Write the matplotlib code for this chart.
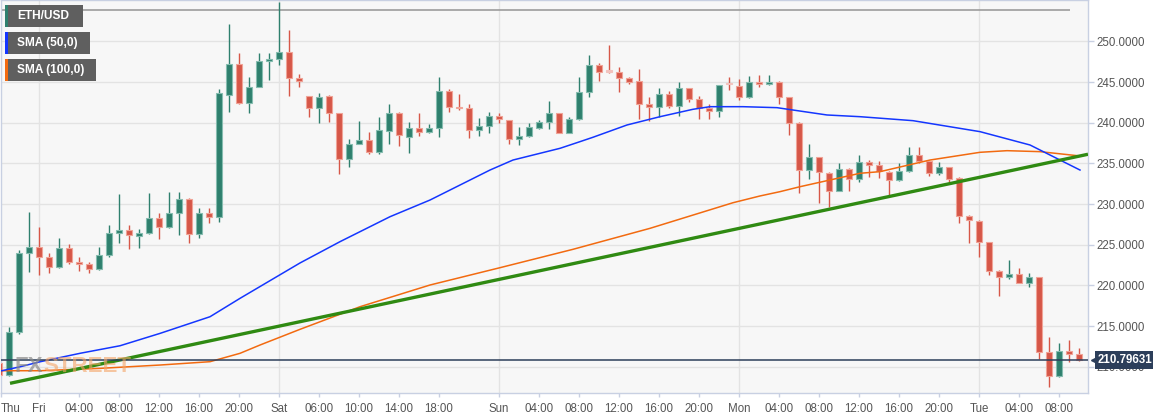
import numpy as np
import matplotlib
matplotlib.use("Agg")
import matplotlib.pyplot as plt
import matplotlib.transforms as mtransforms
from matplotlib.patches import Rectangle

plt.rcParams['font.family'] = ['Liberation Sans', 'DejaVu Sans']

# --- ETH/USD hourly candles ---
opens = [210.45, 208.98, 214.30, 223.95, 224.76, 223.53, 222.30, 224.55, 222.84, 222.60,
         222.00, 223.74, 226.48, 226.81, 226.08, 226.41, 228.33, 227.14, 228.86, 230.60,
         226.28, 228.94, 228.38, 243.42, 247.20, 242.47, 244.44, 247.60, 247.81, 248.67,
         245.47, 243.30, 241.86, 243.30, 241.17, 235.55, 237.39, 237.88, 236.37, 238.99,
         241.17, 238.29, 239.32, 238.83, 239.40, 243.95, 241.98, 241.78, 239.11, 239.64,
         240.84, 240.34, 238.01, 238.38, 239.40, 240.06, 241.17, 238.78, 240.43, 243.83,
         247.11, 246.29, 246.29, 245.47, 245.14, 242.27, 241.90, 243.54, 242.07, 244.24,
         242.93, 241.78, 241.49, 244.73, 244.53, 243.14, 245.06, 244.77, 245.06, 243.14,
         240.01, 234.19, 235.76, 233.86, 231.65, 234.28, 233.09, 235.22, 234.81, 233.99,
         232.96, 234.07, 236.04, 235.30, 233.79, 234.53, 233.17, 228.57, 227.96, 225.30,
         221.81, 220.99, 221.36, 220.33, 220.99, 211.85, 208.90, 211.97, 211.56]
highs = [211.81, 214.92, 224.35, 229.07, 227.22, 223.95, 225.80, 225.06, 223.53, 222.90,
         224.76, 227.43, 231.24, 227.43, 226.90, 231.40, 228.86, 231.45, 231.45, 230.75,
         229.48, 229.48, 244.12, 252.10, 248.55, 245.67, 248.55, 248.55, 254.90, 251.41,
         246.00, 243.35, 243.63, 243.42, 241.20, 237.97, 240.22, 238.83, 240.68, 242.27,
         241.30, 240.14, 241.17, 239.82, 245.60, 244.12, 243.51, 242.27, 240.55, 241.37,
         241.17, 240.40, 239.52, 239.94, 240.34, 242.68, 241.20, 240.75, 245.60, 248.34,
         247.30, 249.57, 246.90, 245.67, 246.58, 243.14, 244.24, 243.95, 245.06, 244.30,
         243.33, 242.27, 244.70, 245.67, 245.35, 245.76, 245.88, 245.88, 245.10, 243.20,
         240.05, 237.39, 235.80, 233.90, 235.02, 234.40, 236.04, 235.42, 235.34, 234.05,
         235.02, 236.99, 236.99, 235.35, 235.14, 234.60, 233.30, 228.60, 228.00, 225.35,
         221.85, 223.12, 222.10, 221.49, 221.05, 213.69, 212.87, 213.28, 212.26]
lows = [206.90, 208.80, 214.00, 221.69, 221.28, 221.49, 222.10, 222.60, 221.80, 221.56,
        221.95, 223.45, 225.18, 224.44, 224.55, 226.28, 225.67, 227.00, 226.20, 225.18,
        225.80, 227.64, 227.84, 241.29, 242.27, 241.17, 244.37, 245.26, 247.10, 243.33,
        244.44, 240.75, 239.94, 240.14, 233.67, 234.60, 237.35, 236.16, 236.20, 237.35,
        237.18, 236.25, 238.38, 238.70, 238.29, 241.29, 241.57, 238.09, 238.38, 238.71,
        239.94, 237.35, 237.23, 238.30, 239.20, 239.20, 238.71, 238.75, 240.30, 243.14,
        245.18, 246.09, 243.75, 244.77, 240.43, 240.26, 240.75, 241.78, 240.84, 242.60,
        240.43, 240.43, 240.75, 244.03, 242.80, 243.10, 244.44, 244.70, 242.27, 238.50,
        231.33, 233.09, 230.17, 229.61, 231.60, 231.61, 232.68, 233.30, 233.17, 231.12,
        232.90, 234.00, 235.02, 233.50, 233.58, 232.56, 227.64, 225.18, 223.45, 221.28,
        218.73, 220.79, 220.30, 219.84, 210.95, 207.47, 208.70, 210.62, 210.75]
closes = [208.98, 214.30, 223.95, 224.76, 223.53, 222.30, 224.55, 222.84, 222.63, 222.00,
          223.74, 226.41, 226.81, 226.20, 226.48, 228.33, 227.22, 228.86, 230.60, 226.28,
          228.94, 228.38, 243.67, 247.23, 242.40, 244.37, 247.60, 247.81, 248.67, 245.47,
          245.14, 241.86, 243.21, 241.17, 235.55, 237.39, 237.88, 236.37, 239.11, 241.17,
          238.50, 239.32, 238.91, 239.40, 243.95, 241.91, 241.78, 239.11, 239.64, 240.84,
          240.43, 238.01, 238.38, 239.45, 240.06, 241.17, 238.71, 240.43, 243.75, 247.11,
          246.29, 246.27, 245.47, 245.06, 242.28, 241.90, 243.54, 242.07, 244.24, 242.93,
          241.78, 241.49, 244.65, 244.73, 243.14, 245.06, 244.77, 245.06, 243.21, 240.01,
          234.19, 235.76, 233.91, 231.65, 234.28, 233.09, 235.22, 234.81, 234.07, 232.96,
          234.11, 236.04, 235.30, 233.79, 234.53, 233.09, 228.57, 228.04, 225.30, 221.81,
          221.07, 221.40, 220.33, 220.99, 211.85, 208.90, 211.97, 211.56, 210.80]

# moving averages sampled from the chart (x = candle index)
sma50_x = [0.1, 2.1, 4.1, 8.1, 12.1, 16.1, 21.1, 24.1, 30.1, 34.1, 39.1, 43.1, 49.1, 51.4,
           56.1, 58.1, 59.4, 62.8, 66.1, 69.4, 71.1, 74.4, 77.8, 79.4, 82.8, 86.1, 91.4,
           98.1, 103.1, 108.1]
sma50_y = [209.46, 209.99, 210.61, 211.65, 212.58, 214.10, 216.15, 218.41, 222.76, 225.38,
           228.45, 230.50, 234.19, 235.42, 236.86, 237.68, 238.22, 239.73, 240.75, 241.66,
           241.98, 241.98, 241.86, 241.57, 240.96, 240.75, 240.26, 238.91, 237.27, 234.19]
sma100_x = [0.1, 4.1, 10.1, 16.1, 21.1, 24.1, 26.1, 30.1, 36.1, 43.1, 50.1, 57.4, 65.1,
            73.4, 76.1, 78.1, 80.1, 86.1, 88.1, 93.1, 98.1, 100.8, 104.1, 108.1]
sma100_y = [209.51, 209.51, 209.80, 210.21, 210.62, 211.65, 212.67, 214.60, 217.38, 220.05,
            222.18, 224.44, 227.02, 230.17, 231.00, 231.53, 232.14, 233.79, 233.99, 235.42,
            236.37, 236.57, 236.45, 235.92]

trend_x = [1.1, 108.9]
trend_y = [207.96, 236.13]

last_price = 210.79631
top_line = 253.87

tick_pos = [0.2, 4, 8, 12, 16, 20, 24, 28, 32, 36, 40, 44, 50, 54, 58, 62, 66, 70,
            74, 78, 82, 86, 90, 94, 98, 102, 106]
tick_labels = ['Thu', 'Fri', '04:00', '08:00', '12:00', '16:00', '20:00', 'Sat', '06:00',
               '10:00', '14:00', '18:00', 'Sun', '04:00', '08:00', '12:00', '16:00', '20:00',
               'Mon', '04:00', '08:00', '12:00', '16:00', '20:00', 'Tue', '04:00', '08:00']
day_lines = [4, 28, 50, 74, 98]
y_ticks = [210, 215, 220, 225, 230, 235, 240, 245, 250]

W, H = 1153, 418
UP, DOWN, FLAT = '#2f806e', '#d65748', '#f2c2bd'
UP_EDGE, DOWN_EDGE = '#86bdb0', '#f0a397'
NAVY = '#2c3e5a'
AXCOL = '#c8d0e2'
TXT = '#555555'

fig = plt.figure(figsize=(W / 100, H / 100), dpi=100)
fig.patch.set_facecolor('white')
ax = fig.add_axes([1 / W, 25 / H, 1087 / W, 393 / H])
ax.set_facecolor('#f7f7f7')

o = np.array(opens)
c = np.array(closes)
hi = np.array(highs)
lo = np.array(lows)
x = np.arange(len(o))

for yt in y_ticks:
    ax.axhline(yt, color='#e3e3e3', lw=1, zorder=0)
for d in day_lines:
    ax.axvline(d, color='#e3e3e3', lw=1, zorder=0)

ax.hlines(top_line, 0.2, 107.1, color='#9c9c9c', lw=1.2, zorder=1)

# candles
for i in range(len(o)):
    diff = c[i] - o[i]
    if abs(diff) < 0.05:
        col, ec = FLAT, FLAT
    elif diff > 0:
        col, ec = UP, UP_EDGE
    else:
        col, ec = DOWN, DOWN_EDGE
    wick = DOWN if col == FLAT else col
    ax.vlines(x[i], lo[i], hi[i], color=wick, lw=1, zorder=3)
    bottom = min(o[i], c[i])
    height = max(abs(diff), 0.22)
    ax.bar(x[i], height, bottom=bottom, width=0.68, color=col, edgecolor=ec,
           linewidth=0.8, zorder=4)

ax.plot(sma100_x, sma100_y, color='#f26a10', lw=1.1, zorder=5)
ax.plot(sma50_x, sma50_y, color='#1436ff', lw=1.1, zorder=5)
ax.plot(trend_x, trend_y, color='#2f8a12', lw=2.4, zorder=6, solid_capstyle='butt')
ax.axhline(last_price, color=NAVY, lw=1.1, zorder=7)

ax.set_xlim(0.2, 108.9)
ax.set_ylim(206.77, 255.1)

ax.yaxis.tick_right()
ax.set_yticks(y_ticks)
ax.set_yticklabels([f'{v:.4f}' for v in y_ticks])
ax.set_xticks(tick_pos)
ax.set_xticklabels(tick_labels)
ax.get_xticklabels()[0].set_horizontalalignment('left')
ax.tick_params(axis='y', length=4, width=1, color=AXCOL, pad=2, labelsize=8.3,
               labelcolor=TXT)
ax.tick_params(axis='x', length=3, width=1, color=AXCOL, pad=4, labelsize=8.3,
               labelcolor=TXT)
for s in ax.spines.values():
    s.set_color(AXCOL)
    s.set_linewidth(1)

# last price label on the right axis (it covers the 210 tick label as in the original)
blend = mtransforms.blended_transform_factory(ax.transAxes, ax.transData)
ax.text(1.0 + 10 / 1087, last_price, '210.79631', transform=blend, ha='left',
        va='center', color='white', fontsize=8.3, fontweight='bold', clip_on=False,
        zorder=10, bbox=dict(boxstyle='square,pad=0.28', fc=NAVY, ec='none'))
ax.plot([1.0 + 6 / 1087], [last_price], transform=blend, marker='<', ms=5,
        color=NAVY, clip_on=False, zorder=10)

# legend boxes (top left)
legend_items = [('ETH/USD', UP, 5, 5, 78, 22),
                ('SMA (50,0)', '#1436ff', 5, 32, 85, 22),
                ('SMA (100,0)', '#f26a10', 5, 59, 91, 22)]
for label, col, x0, y0, w, h in legend_items:
    fig.add_artist(Rectangle((x0 / W, 1 - (y0 + h) / H), w / W, h / H,
                             transform=fig.transFigure, fc='#5f5f5f', ec='none', zorder=20))
    fig.add_artist(Rectangle((x0 / W, 1 - (y0 + h) / H), 3 / W, h / H,
                             transform=fig.transFigure, fc=col, ec='none', zorder=21))
    fig.text((x0 + 12) / W, 1 - (y0 + h / 2) / H, label, color='white', fontsize=8.6,
             fontweight='bold', va='center', ha='left', zorder=22)

# FXSTREET watermark
t1 = fig.text(15 / W, 1 - 372 / H, 'FX', color='#8a8a8a', alpha=0.7, fontsize=16,
              fontweight='bold', va='baseline', zorder=2)
fig.canvas.draw()
bb = t1.get_window_extent()
fig.text(bb.x1 / W, 1 - 372 / H, 'STREET', color='#f4a466', alpha=0.6, fontsize=16,
         fontweight='bold', va='baseline', zorder=2)

fig.savefig('out.png', dpi=100)
